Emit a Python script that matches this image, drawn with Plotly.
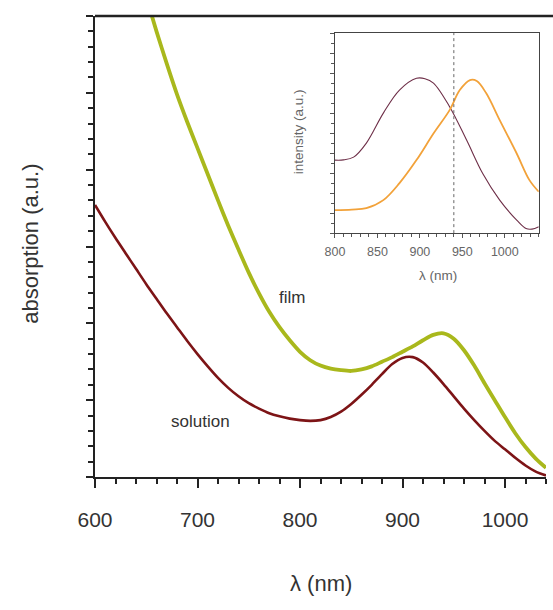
import plotly.graph_objects as go

# Main chart data (absorption, a.u.)
sol_wl = [600, 610, 620, 630, 640, 650, 660, 670, 680, 690, 700, 710, 720, 730, 740, 750, 760, 770, 780, 790,
          800, 810, 820, 830, 840, 850, 860, 870, 880, 890, 900, 910, 920, 930, 940, 950, 960, 970, 980, 990,
          1000, 1010, 1020, 1030, 1040]
sol_abs = [3.54, 3.32, 3.11, 2.91, 2.71, 2.51, 2.32, 2.13, 1.95, 1.77, 1.6, 1.44, 1.29, 1.16, 1.05, 0.96, 0.89, 0.83, 0.79, 0.76,
           0.74, 0.73, 0.74, 0.78, 0.85, 0.95, 1.07, 1.2, 1.34, 1.47, 1.55, 1.56, 1.49, 1.36, 1.21, 1.05, 0.89, 0.74, 0.6, 0.47,
           0.36, 0.25, 0.15, 0.07, 0.02]

film_wl = [640, 650, 660, 670, 680, 690, 700, 710, 720, 730, 740, 750, 760, 770, 780, 790, 800, 810, 820, 830,
           840, 850, 860, 870, 880, 890, 900, 910, 920, 930, 940, 950, 960, 970, 980, 990, 1000, 1010, 1020, 1030, 1040]
film_abs = [6.72, 6.25, 5.8, 5.38, 4.98, 4.62, 4.28, 3.94, 3.6, 3.27, 2.96, 2.66, 2.39, 2.15, 1.95, 1.78, 1.63, 1.52, 1.45, 1.41,
            1.39, 1.38, 1.4, 1.44, 1.5, 1.56, 1.63, 1.7, 1.78, 1.85, 1.87, 1.8, 1.65, 1.45, 1.22, 1.0, 0.78, 0.57, 0.39, 0.24, 0.12]

# Inset data (intensity, a.u.)
pl_sol_wl = [800, 810, 822, 837, 857, 876, 896, 906, 916, 935, 955, 974, 994, 1014, 1025, 1032, 1040]
pl_sol = [0.365, 0.366, 0.38, 0.45, 0.6, 0.715, 0.774, 0.772, 0.75, 0.632, 0.465, 0.298, 0.165, 0.065, 0.023, 0.02, 0.032]

pl_film_wl = [800, 820, 837, 857, 876, 896, 916, 935, 947, 959, 967, 978, 994, 1014, 1029, 1040]
pl_film = [0.115, 0.118, 0.125, 0.165, 0.25, 0.365, 0.498, 0.615, 0.715, 0.765, 0.76, 0.70, 0.565, 0.398, 0.265, 0.207]

main_ticks = [600, 700, 800, 900, 1000]
inset_ticks = [800, 850, 900, 950, 1000]

SOL_COLOR = "#7d1416"
FILM_COLOR = "#a9b81c"
PL_SOL_COLOR = "#6e2f48"
PL_FILM_COLOR = "#f2a23a"
FONT = "Liberation Sans, Arial, sans-serif"

fig = go.Figure()
fig.add_trace(go.Scatter(x=sol_wl, y=sol_abs, mode="lines", line=dict(color=SOL_COLOR, width=2.6, shape="spline", smoothing=0.8),
                         xaxis="x", yaxis="y", showlegend=False))
fig.add_trace(go.Scatter(x=film_wl, y=film_abs, mode="lines", line=dict(color=FILM_COLOR, width=3.8, shape="spline", smoothing=0.8),
                         xaxis="x", yaxis="y", showlegend=False))
fig.add_trace(go.Scatter(x=pl_sol_wl, y=pl_sol, mode="lines", line=dict(color=PL_SOL_COLOR, width=1.1, shape="spline"),
                         xaxis="x2", yaxis="y2", showlegend=False))
fig.add_trace(go.Scatter(x=pl_film_wl, y=pl_film, mode="lines", line=dict(color=PL_FILM_COLOR, width=1.8, shape="spline"),
                         xaxis="x2", yaxis="y2", showlegend=False))

fig.update_layout(
    width=553, height=610,
    margin=dict(l=95, r=7, t=16, b=133),
    paper_bgcolor="white", plot_bgcolor="white",
    font=dict(family=FONT, color="#333333"),
    xaxis=dict(range=[600, 1040], domain=[0, 1], showgrid=False, zeroline=False,
               showline=True, linecolor="#222", linewidth=2,
               tickmode="array", tickvals=main_ticks, ticks="outside", ticklen=9, tickwidth=2, tickcolor="#222",
               minor=dict(dtick=20, ticks="outside", ticklen=5, tickwidth=2, tickcolor="#222"),
               tickfont=dict(size=21, color="#333"), ticklabelstandoff=14),
    yaxis=dict(range=[0, 6], domain=[0, 1], showgrid=False, zeroline=False,
               showline=True, linecolor="#222", linewidth=2,
               dtick=1, ticks="outside", ticklen=7, tickwidth=2, tickcolor="#222", showticklabels=False,
               minor=dict(dtick=0.2, ticks="outside", ticklen=5, tickwidth=1.5, tickcolor="#222")),
    xaxis2=dict(range=[800, 1040], domain=[0.532, 0.984], anchor="y2", showgrid=False, zeroline=False,
                showline=True, mirror=True, linecolor="#444", linewidth=1.2,
                tickmode="array", tickvals=inset_ticks, ticks="outside", ticklen=4, tickwidth=1, tickcolor="#555",
                minor=dict(dtick=10, ticks="outside", ticklen=3, tickwidth=1, tickcolor="#555"),
                tickfont=dict(size=12.5, color="#666"), ticklabelstandoff=3),
    yaxis2=dict(range=[0, 1], domain=[0.529, 0.963], anchor="x2", showgrid=False, zeroline=False,
                showline=True, mirror=True, linecolor="#444", linewidth=1.2,
                dtick=0.1, ticks="outside", ticklen=4, tickwidth=1, tickcolor="#555", showticklabels=False,
                minor=dict(dtick=0.05, ticks="outside", ticklen=3, tickwidth=1, tickcolor="#555")),
    shapes=[
        dict(type="line", xref="paper", yref="paper", x0=0, x1=1.02, y0=1, y1=1,
             line=dict(color="#222", width=2.5)),
        dict(type="line", xref="x2", yref="y2", x0=940, x1=940, y0=0, y1=1,
             line=dict(color="#666", width=1, dash="dot")),
    ],
    annotations=[
        dict(text="absorption (a.u.)", xref="paper", yref="paper", x=-0.143, y=0.505, textangle=-90,
             showarrow=False, font=dict(size=22, color="#333"), xanchor="center", yanchor="middle"),
        dict(text="λ (nm)", xref="paper", yref="paper", x=0.5, y=-0.23, showarrow=False,
             font=dict(size=22, color="#333"), xanchor="center", yanchor="middle"),
        dict(text="intensity (a.u.)", xref="paper", yref="paper", x=0.45, y=0.75, textangle=-90,
             showarrow=False, font=dict(size=13.5, color="#666"), xanchor="center", yanchor="middle"),
        dict(text="λ (nm)", xref="paper", yref="paper", x=0.76, y=0.438, showarrow=False,
             font=dict(size=13.5, color="#666"), xanchor="center", yanchor="middle"),
        dict(text="film", xref="x", yref="y", x=792, y=2.34, showarrow=False,
             font=dict(size=17, color="#333")),
        dict(text="solution", xref="x", yref="y", x=703, y=0.72, showarrow=False,
             font=dict(size=17, color="#333")),
    ],
)

fig.write_html("out.html")
